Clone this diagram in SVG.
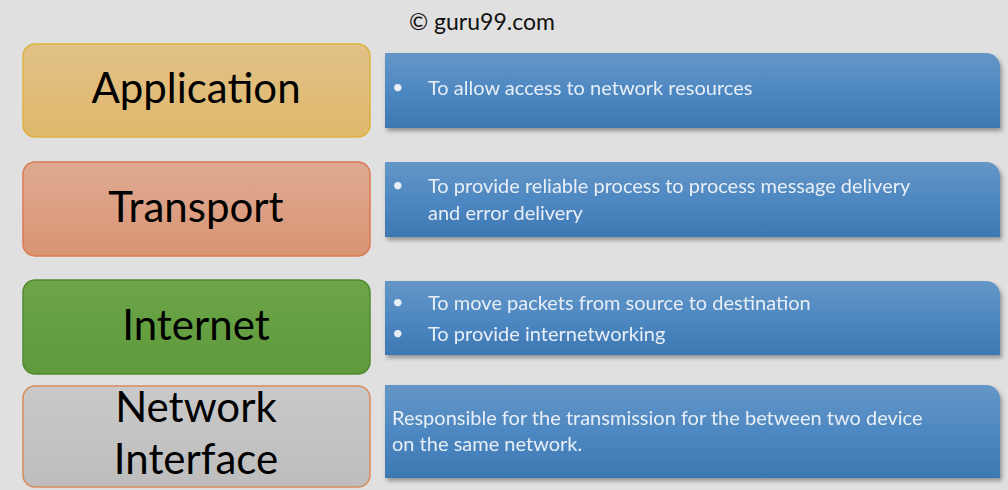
<svg xmlns="http://www.w3.org/2000/svg" width="1008" height="490" viewBox="0 0 1008 490">
<defs>
<linearGradient id="gb" x1="0" y1="0" x2="0" y2="1"><stop offset="0" stop-color="#6496c6"/><stop offset="0.5" stop-color="#4e88c2"/><stop offset="1" stop-color="#3d78b2"/></linearGradient>
<linearGradient id="ga" x1="0" y1="0" x2="0" y2="1"><stop offset="0" stop-color="#e1c188"/><stop offset="1" stop-color="#dfb86b"/></linearGradient>
<linearGradient id="gt" x1="0" y1="0" x2="0" y2="1"><stop offset="0" stop-color="#deaa92"/><stop offset="1" stop-color="#d99473"/></linearGradient>
<linearGradient id="gi" x1="0" y1="0" x2="0" y2="1"><stop offset="0" stop-color="#6ba548"/><stop offset="1" stop-color="#5f9a3c"/></linearGradient>
<linearGradient id="gn" x1="0" y1="0" x2="0" y2="1"><stop offset="0" stop-color="#c9c9c9"/><stop offset="1" stop-color="#bdbdbd"/></linearGradient>
<filter id="sh" x="-5%" y="-10%" width="110%" height="130%"><feDropShadow dx="2" dy="3" stdDeviation="2" flood-color="#000" flood-opacity="0.35"/></filter>
</defs>
<style>
.l{font-family:Lato,"Open Sans",sans-serif;font-size:42px;fill:#000;text-anchor:middle}
.d{font-family:Lato,"Open Sans",sans-serif;font-size:20px;fill:#e8eef6}
.b{filter:url(#sh)}
</style>
<rect width="1008" height="490" fill="#e0e0e0"/>
<text x="482" y="30" font-family="Lato,'Open Sans',sans-serif" font-size="23" fill="#111" text-anchor="middle">© guru99.com</text>
<g id="application"><rect x="23" y="44" width="347" height="93" rx="12" fill="url(#ga)" stroke="#dcb23e" stroke-width="1.5"/><text class="l" x="196" y="103">Application</text></g>
<g id="transport"><rect x="23" y="162" width="347" height="94" rx="12" fill="url(#gt)" stroke="#d97a50" stroke-width="1.5"/><text class="l" x="196" y="222">Transport</text></g>
<g id="internet"><rect x="23" y="280" width="347" height="94" rx="12" fill="url(#gi)" stroke="#4f8a30" stroke-width="1.5"/><text class="l" x="196" y="340">Internet</text></g>
<g id="network-interface"><rect x="23" y="386" width="347" height="101" rx="12" fill="url(#gn)" stroke="#d98a5a" stroke-width="1.5"/><text class="l" x="196" y="422">Network</text><text class="l" x="196" y="474">Interface</text></g>
<g id="desc-application" class="b"><path d="M385 53 H986 A14 14 0 0 1 1000 67 V128 H385 Z" fill="url(#gb)"/><text class="d" x="392" y="94">•</text><text class="d" x="428" y="95">To allow access to network resources</text></g>
<g id="desc-transport" class="b"><path d="M385 162 H986 A14 14 0 0 1 1000 176 V237 H385 Z" fill="url(#gb)"/><text class="d" x="392" y="192">•</text><text class="d" x="428" y="193">To provide reliable process to process message delivery</text><text class="d" x="428" y="220">and error delivery</text></g>
<g id="desc-internet" class="b"><path d="M385 281 H986 A14 14 0 0 1 1000 295 V355 H385 Z" fill="url(#gb)"/><text class="d" x="392" y="309">•</text><text class="d" x="428" y="310">To move packets from source to destination</text><text class="d" x="392" y="340">•</text><text class="d" x="428" y="341">To provide internetworking</text></g>
<g id="desc-network-interface" class="b"><path d="M385 385 H986 A14 14 0 0 1 1000 399 V478 H385 Z" fill="url(#gb)"/><text class="d" x="392" y="425">Responsible for the transmission for the between two device</text><text class="d" x="392" y="451">on the same network.</text></g>
<g id="connectors"/>
</svg>
